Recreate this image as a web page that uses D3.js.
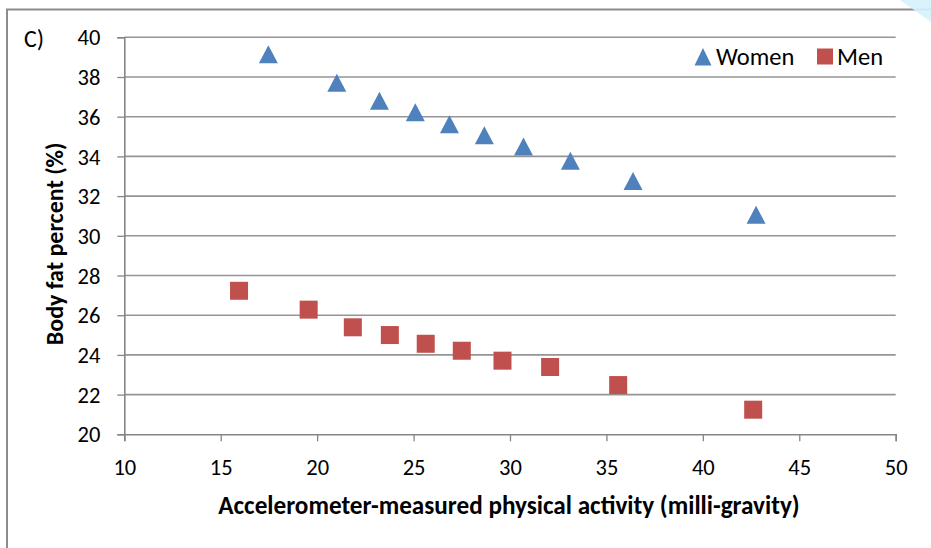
<!DOCTYPE html>
<html>
<head>
<meta charset="utf-8">
<script src="https://cdn.jsdelivr.net/npm/d3@7"></script>
<style>
  html, body { margin: 0; padding: 0; background: #fff; }
  svg { display: block; font-family: Carlito, Lato, "Open Sans", sans-serif; }
</style>
</head>
<body>
<svg id="chart" width="931" height="548"></svg>
<script>
// Accelerometer-measured activity (milli-gravity) vs body fat percent
const womenActivity = [17.47, 21.02, 23.23, 25.09, 26.86, 28.67, 30.70, 33.13, 36.38, 42.76];
const womenBodyFat  = [39.12, 37.68, 36.78, 36.20, 35.60, 35.04, 34.47, 33.76, 32.73, 31.03];
const menActivity   = [15.95, 19.56, 21.85, 23.77, 25.63, 27.50, 29.61, 32.08, 35.61, 42.61];
const menBodyFat    = [27.23, 26.28, 25.39, 25.00, 24.56, 24.21, 23.71, 23.39, 22.48, 21.24];
const xTicks = [10, 15, 20, 25, 30, 35, 40, 45, 50];
const yTicks = [20, 22, 24, 26, 28, 30, 32, 34, 36, 38, 40];
const seriesNames = ["Women", "Men"];
const seriesColors = ["#4F81BD", "#C0504D"];

const svg = d3.select("#chart");
const plot = { left: 124.3, right: 895.7, top: 37.3, bottom: 434.3 };

const x = d3.scaleLinear().domain([10, 50]).range([plot.left, plot.right]);
const y = d3.scaleLinear().domain([20, 40]).range([plot.bottom, plot.top]);

// outer chart frame (open on the right and bottom)
svg.append("path")
  .attr("d", "M7,548 V9.5 H931")
  .attr("fill", "none").attr("stroke", "#8c8c8c").attr("stroke-width", 2);

// faint watermark corner
svg.append("path")
  .attr("d", "M900,0 L931,0 L931,22 Z")
  .attr("fill", "#d6f1fb").attr("opacity", 0.9);

// horizontal gridlines
svg.append("g").selectAll("line")
  .data(yTicks.filter(d => d !== 20))
  .join("line")
  .attr("x1", plot.left).attr("x2", plot.right)
  .attr("y1", d => y(d)).attr("y2", d => y(d))
  .attr("stroke", "#959595").attr("stroke-width", 1.6);

// y axis
const yAxis = svg.append("g")
  .attr("transform", `translate(${plot.left},0)`)
  .call(d3.axisLeft(y).tickValues(yTicks).tickSize(7).tickPadding(17).tickFormat(d3.format("d")));
// x axis
const xAxis = svg.append("g")
  .attr("transform", `translate(0,${plot.bottom})`)
  .call(d3.axisBottom(x).tickValues(xTicks).tickSize(7).tickPadding(18).tickFormat(d3.format("d")));

[yAxis, xAxis].forEach(g => {
  g.attr("font-family", null).attr("font-size", null);
  g.select(".domain").attr("stroke", "#868686").attr("stroke-width", 1.6);
  g.selectAll(".tick line").attr("stroke", "#868686").attr("stroke-width", 1.3);
  g.selectAll(".tick text").attr("fill", "#000").style("font-size", "22.5px");
});
yAxis.selectAll(".tick text").attr("dy", "0.34em");

// markers
const women = womenActivity.map((a, i) => ({ a, f: womenBodyFat[i] }));
const men = menActivity.map((a, i) => ({ a, f: menBodyFat[i] }));

svg.append("g").selectAll("rect")
  .data(men).join("rect")
  .attr("x", d => x(d.a) - 9).attr("y", d => y(d.f) - 9)
  .attr("width", 18).attr("height", 18)
  .attr("fill", seriesColors[1]);

svg.append("g").selectAll("path")
  .data(women).join("path")
  .attr("d", "M0,-9.5 L9.5,8.5 L-9.5,8.5 Z")
  .attr("transform", d => `translate(${x(d.a)},${y(d.f)})`)
  .attr("fill", seriesColors[0]);

// legend
const legend = svg.append("g").style("font-size", "24.5px");
legend.append("path").attr("d", "M703,48 L711.5,65.5 L694.5,65.5 Z").attr("fill", seriesColors[0]);
legend.append("text").attr("x", 716).attr("y", 65).text(seriesNames[0]);
legend.append("rect").attr("x", 817).attr("y", 48.5).attr("width", 16).attr("height", 16).attr("fill", seriesColors[1]);
legend.append("text").attr("x", 837).attr("y", 65).text(seriesNames[1]);

// panel letter
svg.append("text").attr("x", 24).attr("y", 47).style("font-size", "24px").text("C)");

// axis titles
svg.append("text")
  .attr("x", 509).attr("y", 514)
  .attr("text-anchor", "middle").attr("font-weight", "bold").style("font-size", "25.2px")
  .text("Accelerometer-measured physical activity (milli-gravity)");

svg.append("text")
  .attr("transform", `translate(63,${(plot.top + plot.bottom) / 2 + 8}) rotate(-90)`)
  .attr("text-anchor", "middle").attr("font-weight", "bold").style("font-size", "24px")
  .text("Body fat percent (%)");
</script>
</body>
</html>
